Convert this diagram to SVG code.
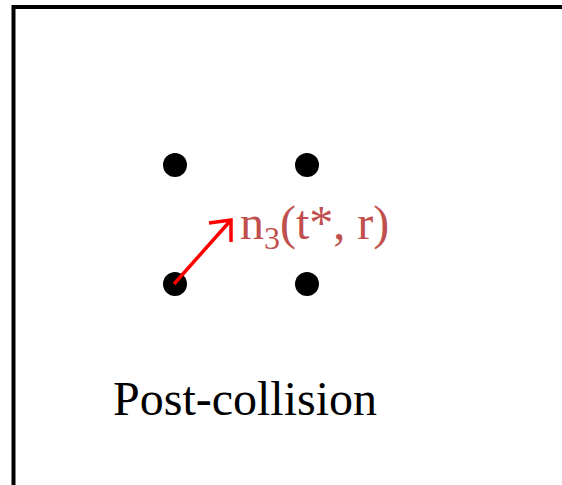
<svg xmlns="http://www.w3.org/2000/svg" width="562" height="485" viewBox="0 0 562 485">
<style>
.dot{fill:#000}
.lbl{font-family:"Liberation Serif",serif;font-size:48px}
</style>
<rect width="562" height="485" fill="#fff"/>
<g id="frame"><path d="M13.5,485 V7 H562" fill="none" stroke="#000" stroke-width="4"/></g>
<g id="p1"><circle class="dot" cx="175" cy="165" r="12"/></g>
<g id="p2"><circle class="dot" cx="307" cy="165" r="12"/></g>
<g id="p3"><circle class="dot" cx="175" cy="284" r="12"/></g>
<g id="p4"><circle class="dot" cx="307" cy="284" r="12"/></g>
<g id="connectors">
<path d="M174,284 L231,220 M209,223 L231,220 L231,242" fill="none" stroke="#ff0000" stroke-width="3.5"/>
</g>
<g id="label-n3"><text class="lbl" x="240" y="239" fill="#C0504D">n<tspan font-size="32" dy="10">3</tspan><tspan dy="-10">(t*, r)</tspan></text></g>
<g id="label-post"><text class="lbl" x="113" y="415" fill="#000">Post-collision</text></g>
</svg>
